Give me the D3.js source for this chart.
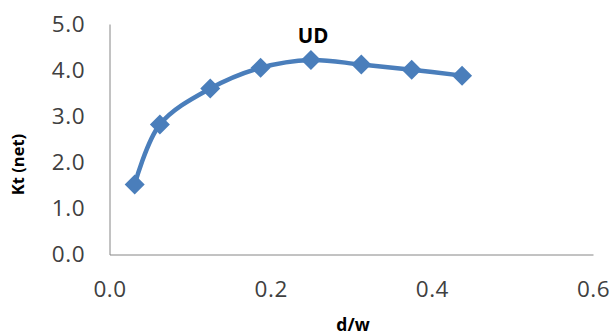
<!DOCTYPE html>
<html><head><meta charset="utf-8">
<script src="https://cdn.jsdelivr.net/npm/d3@7"></script>
<style>body{margin:0;background:#fff}svg{display:block}</style>
</head><body>
<svg id="c" width="612" height="336"></svg>
<script>
const dw = [0.03125, 0.0625, 0.125, 0.1875, 0.25, 0.3125, 0.375, 0.4375];
const ktNet = [1.52, 2.82, 3.60, 4.05, 4.22, 4.12, 4.01, 3.88];
const xTicks = [0.0, 0.2, 0.4, 0.6];
const yTicks = [0.0, 1.0, 2.0, 3.0, 4.0, 5.0];
const seriesName = "UD";
const xTitle = "d/w";
const yTitle = "Kt (net)";

const svg = d3.select("#c");
const x = d3.scaleLinear().domain([0, 0.6]).range([109.5, 593]);
const y = d3.scaleLinear().domain([0, 5]).range([254.5, 24]);
const font = "'Open Sans', sans-serif";
const tc = "#404040";

// axes
const xa = svg.append("g").attr("transform", `translate(0,${y(0)})`)
  .call(d3.axisBottom(x).tickValues(xTicks).tickSize(0).tickPadding(27).tickFormat(d3.format(".1f")));
const ya = svg.append("g").attr("transform", `translate(${x(0)},0)`)
  .call(d3.axisLeft(y).tickValues(yTicks).tickSize(0).tickPadding(24.5).tickFormat(d3.format(".1f")));
[xa, ya].forEach(a => {
  a.select(".domain").attr("stroke", "#868686").attr("stroke-width", 1);
  a.selectAll("text").attr("font-family", font).attr("font-size", 22.5)
    .attr("letter-spacing", 0.5).attr("fill", tc);
});

// line
const line = d3.line().x((d, i) => x(dw[i])).y(d => y(d)).curve(d3.curveCatmullRom.alpha(0.5));
svg.append("path").datum(ktNet).attr("d", line).attr("fill", "none")
  .attr("stroke", "#4A7EBB").attr("stroke-width", 4.5).attr("stroke-linejoin", "round");

// markers
const s = 10;
svg.append("g").selectAll("path").data(ktNet).join("path")
  .attr("d", (d, i) => {
    const cx = x(dw[i]), cy = y(d);
    return `M${cx},${cy - s}L${cx + s},${cy}L${cx},${cy + s}L${cx - s},${cy}Z`;
  })
  .attr("fill", "#4A7EBB");

// series label
svg.append("text").attr("x", 313).attr("y", 43).attr("text-anchor", "middle")
  .attr("font-family", font).attr("font-weight", "bold").attr("font-size", 20.5).attr("fill", "#000")
  .text(seriesName);

// axis titles
svg.append("text").attr("x", 353).attr("y", 331).attr("text-anchor", "middle")
  .attr("font-family", font).attr("font-weight", "bold").attr("font-size", 17.5).attr("fill", "#000")
  .text(xTitle);
svg.append("text").attr("transform", "translate(23.5,164.5) rotate(-90)").attr("text-anchor", "middle")
  .attr("font-family", font).attr("font-weight", "bold").attr("font-size", 16.5).attr("fill", "#000")
  .text(yTitle);
</script>
</body></html>
